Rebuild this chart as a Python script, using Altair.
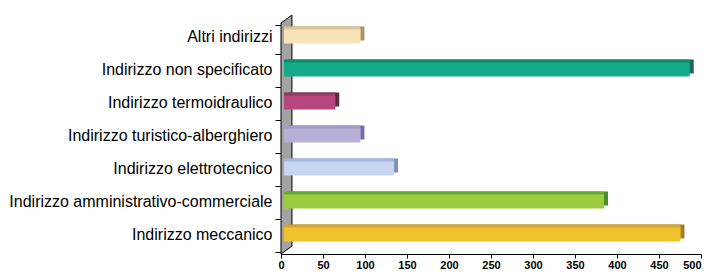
import altair as alt
import pandas as pd

categories = [
    "Altri indirizzi",
    "Indirizzo non specificato",
    "Indirizzo termoidraulico",
    "Indirizzo turistico-alberghiero",
    "Indirizzo elettrotecnico",
    "Indirizzo amministrativo-commerciale",
    "Indirizzo meccanico",
]
values = [91, 483, 61, 91, 131, 381, 472]
front_colors = ["#F8E3B8", "#13AB8A", "#B7467A", "#B8AED6", "#C7D6EE", "#9BCB3F", "#F0C32A"]
top_colors = ["#DCC59A", "#0C8A6E", "#8F3A60", "#A39ACB", "#A3B8DA", "#66AA2E", "#D0A640"]
side_colors = ["#A8926E", "#1B6655", "#5A2C42", "#786CA6", "#7C92B8", "#4E8A28", "#9C7E2C"]
x_ticks = [0, 50, 100, 150, 200, 250, 300, 350, 400, 450, 500]

TOTAL_W, TOTAL_H = 696, 262
YAXIS_EXT = 272
PAD = {"left": 0, "top": 4, "right": 2, "bottom": 0}
W = TOTAL_W - YAXIS_EXT - PAD["right"]     # expected plot width
XMAX = 500
FONT = "Liberation Sans"
BAR = 14
OX, OY = 3, -3       # bar offset into the wall
DX, DY = 4, 3        # bar depth
WALL_DX, WALL_DY = 11, 8
wall_units = WALL_DX * XMAX / W
H_EST = 234

df = pd.DataFrame({
    "cat": categories,
    "val": values,
    "front": front_colors,
    "top": top_colors,
    "side": side_colors,
})
wall = pd.DataFrame({
    "wx": [0, wall_units],
    "wtop": [0, -WALL_DY],
    "wbot": [H_EST, H_EST - WALL_DY],
})

xscale = alt.Scale(domain=[0, XMAX], nice=False, zero=True)
xaxis = alt.Axis(values=x_ticks, title=None, grid=False, labelFontWeight="bold",
                 labelFontSize=11, labelFont=FONT, labelColor="black", tickColor="black",
                 domainColor="black", tickSize=4, labelPadding=1, labelFlush=False,
                 labelAlign={"condition": {"test": "datum.value == 500", "value": "right"},
                             "value": "center"})
yaxis = alt.Axis(title=None, labelFontSize=16, labelFont=FONT, labelColor="black",
                 tickColor="black", domainColor="black", tickSize=6, labelPadding=3,
                 tickBand="extent", labelOffset=-3, minExtent=YAXIS_EXT, maxExtent=YAXIS_EXT,
                 labelLimit=300)
ysc = alt.Scale(domain=categories)

wall_layer = alt.Chart(wall).mark_area(
    fill="#A3A3A3", stroke="black", strokeWidth=1, clip=False
).encode(
    x=alt.X("wx:Q", scale=xscale, axis=xaxis),
    y=alt.Y("wtop:Q", scale=alt.Scale(domain=[H_EST, 0], nice=False, zero=False), axis=None),
    y2="wbot:Q",
)

base = alt.Chart(df)
side = base.mark_bar(size=BAR, xOffset=OX + DX, x2Offset=OX + DX, yOffset=OY - DY).encode(
    x=alt.X("val:Q", scale=xscale, axis=xaxis),
    y=alt.Y("cat:N", scale=ysc, axis=yaxis, sort=categories),
    color=alt.Color("side:N", scale=None),
)
topf = base.mark_bar(size=BAR, xOffset=OX, x2Offset=OX + DX, yOffset=OY - DY).encode(
    x=alt.X("val:Q", scale=xscale, axis=xaxis),
    y=alt.Y("cat:N", scale=ysc, axis=yaxis, sort=categories),
    color=alt.Color("top:N", scale=None),
)
front = base.mark_bar(size=BAR, xOffset=OX, x2Offset=OX, yOffset=OY).encode(
    x=alt.X("val:Q", scale=xscale, axis=xaxis),
    y=alt.Y("cat:N", scale=ysc, axis=yaxis, sort=categories),
    color=alt.Color("front:N", scale=None),
)

bars = alt.layer(side, topf, front)
chart = alt.layer(wall_layer, bars).resolve_scale(y="independent").properties(
    width=TOTAL_W, height=TOTAL_H,
    padding=PAD,
    autosize=alt.AutoSizeParams(type="fit", contains="padding"),
).configure(font=FONT).configure_view(stroke=None, strokeWidth=0)

chart.save("out.html", embed_options={"renderer": "svg", "actions": False})
